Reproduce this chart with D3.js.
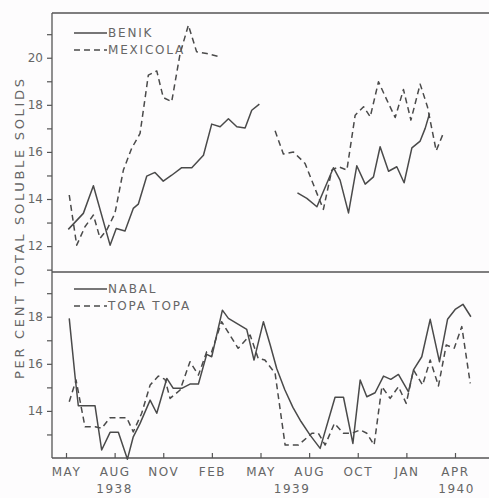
<!DOCTYPE html>
<html>
<head>
<meta charset="utf-8">
<script src="https://cdn.jsdelivr.net/npm/d3@7"></script>
<style>
    body { margin: 0; background: #fdfcfd; }
    text { font-family: "DejaVu Sans", sans-serif; fill: #666; }
</style>
</head>
<body>
<svg width="489" height="498"></svg>
<script>
// months counted from May 1938, null breaks the line
let benikMonths = [0.14, 1.07, 1.69, 2.72, 3.1, 3.64, 4.15, 4.46, 4.98, 5.49, 6.0, 6.52, 7.14, 7.76, 8.48, 8.99, 9.51, 10.02, 10.54, 11.05, 11.46, 11.93,
    null, 14.28, 14.86, 15.48, 16.5, 16.91, 17.43, 17.94, 18.46, 18.97, 19.38, 19.9, 20.41, 20.86, 21.34, 21.85, 22.16, 22.43];
let benikValues = [12.71, 13.39, 14.56, 12.04, 12.75, 12.64, 13.6, 13.78, 14.97, 15.13, 14.76, 15.01, 15.33, 15.33, 15.86, 17.18, 17.07, 17.41, 17.07, 17.02, 17.77, 18.03,
    null, 14.26, 14.03, 13.67, 15.33, 14.8, 13.41, 15.41, 14.63, 14.94, 16.22, 15.18, 15.37, 14.69, 16.17, 16.46, 17.0, 17.63];

let mexicolaMonths = [0.2, 0.66, 1.17, 1.69, 2.1, 2.51, 3.02, 3.54, 4.05, 4.57, 5.08, 5.6, 6.0, 6.52, 7.04, 7.55, 8.06, 8.68, 9.51,
    null, 12.9, 13.41, 14.03, 14.75, 15.48, 15.88, 16.4, 16.81, 17.33, 17.84, 18.36, 18.77, 19.28, 19.8, 20.31, 20.82, 21.28, 21.85, 22.3, 22.84, 23.29];
let mexicolaValues = [14.17, 12.04, 12.82, 13.32, 12.33, 12.68, 13.39, 15.23, 16.15, 16.79, 19.26, 19.44, 18.31, 18.13, 20.18, 21.38, 20.25, 20.18, 20.04,
    null, 16.9, 15.91, 16.0, 15.51, 14.24, 13.56, 15.23, 15.37, 15.23, 17.56, 17.92, 17.49, 18.98, 18.2, 17.46, 18.65, 17.35, 18.88, 17.92, 16.05, 16.81];

let nabalMonths = [0.2, 0.56, 0.76, 1.79, 2.2, 2.72, 3.23, 3.79, 4.15, 4.57, 5.19, 5.6, 6.22, 6.62, 7.14, 7.65, 8.17, 8.68, 8.99, 9.65, 10.02, 11.15, 11.6, 12.18,
    12.6, 13.0, 13.5, 14.0, 14.5, 15.06, 15.68, 16.6, 17.12, 17.7, 18.15, 18.56, 19.07, 19.59, 20.04, 20.51, 21.13, 21.44, 21.95, 22.47, 23.04, 23.54, 24.01, 24.49, 24.98];
let nabalValues = [17.93, 15.45, 14.22, 14.22, 12.34, 13.09, 13.09, 11.95, 12.9, 13.47, 14.46, 13.9, 15.38, 14.96, 14.96, 15.14, 15.14, 16.4, 16.3, 18.28, 17.93, 17.46, 16.16, 17.79,
    16.8, 15.8, 14.9, 14.15, 13.55, 12.97, 12.41, 14.58, 14.58, 12.62, 15.31, 14.6, 14.77, 15.48, 15.34, 15.55, 14.81, 15.74, 16.3, 17.89, 16.09, 17.89, 18.31, 18.53, 18.0];

let topaMonths = [0.2, 0.62, 1.17, 1.79, 2.2, 2.72, 3.75, 4.15, 4.67, 5.19, 5.7, 6.11, 6.42, 7.04, 7.65, 8.17, 8.68, 8.99, 9.6, 10.62, 11.36, 11.86, 12.27, 12.9,
    13.52, 14.34, 15.17, 15.57, 15.99, 16.56, 17.12, 17.63, 18.15, 18.56, 19.01, 19.49, 20.0, 20.51, 20.99, 21.44, 22.0, 22.47, 22.98, 23.46, 23.95, 24.42, 24.94];
let topaValues = [14.39, 15.31, 13.33, 13.33, 13.26, 13.71, 13.71, 13.11, 13.9, 15.1, 15.48, 15.34, 14.53, 14.89, 16.09, 15.52, 16.51, 16.51, 17.79, 16.66, 17.22, 16.23, 16.16, 15.6,
    12.55, 12.55, 13.05, 13.05, 12.55, 13.47, 13.05, 13.05, 13.19, 13.05, 12.55, 15.03, 14.53, 15.03, 14.32, 15.74, 15.1, 16.16, 15.06, 16.8, 16.66, 17.58, 15.17];

let monthTicks = [0, 3, 6, 9, 12, 15, 18, 21, 24];
let monthLabels = ["MAY", "AUG", "NOV", "FEB", "MAY", "AUG", "OCT", "JAN", "APR"];
let yearTicks = [3, 13.95, 24.1];
let yearLabels = ["1938", "1939", "1940"];
let topTicks = [11, 12, 13, 14, 15, 16, 17, 18, 19, 20, 21];
let bottomTicks = [13, 14, 15, 16, 17, 18, 19];

let svg = d3.select("svg");
let lineColor = "#4a4a4a";

let x = d3.scaleLinear().domain([0, 24]).range([66, 455]);
let yTop = d3.scaleLinear().domain([10.9, 21.9]).range([272, 13]);
let yBottom = d3.scaleLinear().domain([12, 19.9]).range([458, 272]);
let left = 52, right = 489;

// frame
let frame = svg.append("g").attr("stroke", "#555").attr("stroke-width", 1.3);
frame.append("line").attr("x1", left).attr("x2", left).attr("y1", yTop.range()[1]).attr("y2", yBottom.range()[0]);
for (let y of [yTop.range()[1], yTop.range()[0], yBottom.range()[0]]) {
    frame.append("line").attr("x1", left).attr("x2", right).attr("y1", y).attr("y2", y);
}

function evenLabel(d) {
    return d % 2 == 0 ? d : "";
}

function styleAxis(g) {
    g.select(".domain").remove();
    g.selectAll(".tick line").attr("stroke", "#555").attr("stroke-width", 1.2);
    g.selectAll(".tick text").style("font-size", "12px").attr("fill", "#666");
}

svg.append("g")
    .attr("transform", `translate(${left},0)`)
    .call(d3.axisLeft(yTop).tickValues(topTicks).tickFormat(evenLabel).tickSize(5).tickPadding(4))
    .call(styleAxis);

svg.append("g")
    .attr("transform", `translate(${left},0)`)
    .call(d3.axisLeft(yBottom).tickValues(bottomTicks).tickFormat(evenLabel).tickSize(5).tickPadding(4))
    .call(styleAxis);

svg.append("g")
    .attr("transform", `translate(0,${yBottom.range()[0]})`)
    .call(d3.axisBottom(x).tickValues(monthTicks).tickFormat((d, i) => monthLabels[i]).tickSizeInner(-5).tickSizeOuter(0).tickPadding(9))
    .call(styleAxis)
    .call(g => g.selectAll(".tick text").style("letter-spacing", "1.5px"));

svg.append("g").selectAll("text")
    .data(yearLabels)
    .join("text")
    .attr("x", (d, i) => x(yearTicks[i]))
    .attr("y", 493)
    .attr("text-anchor", "middle")
    .style("font-size", "12px")
    .style("letter-spacing", "1.5px")
    .text(d => d);

svg.append("text")
    .attr("transform", "translate(19,229) rotate(-90)")
    .attr("text-anchor", "middle")
    .attr("dominant-baseline", "central")
    .attr("textLength", 300)
    .attr("lengthAdjust", "spacing")
    .style("font-size", "13px")
    .attr("fill", "#888")
    .text("PER CENT TOTAL SOLUBLE SOLIDS");

function drawSeries(months, values, yScale, dashed) {
    let points = months.map((m, i) => m === null ? null : [m, values[i]]);
    let line = d3.line()
        .defined(d => d !== null)
        .x(d => x(d[0]))
        .y(d => yScale(d[1]));
    svg.append("path")
        .datum(points)
        .attr("d", line)
        .attr("fill", "none")
        .attr("stroke", lineColor)
        .attr("stroke-width", 1.5)
        .attr("stroke-linejoin", "round")
        .attr("stroke-dasharray", dashed ? "6,4" : null);
}

drawSeries(benikMonths, benikValues, yTop, false);
drawSeries(mexicolaMonths, mexicolaValues, yTop, true);
drawSeries(nabalMonths, nabalValues, yBottom, false);
drawSeries(topaMonths, topaValues, yBottom, true);

function drawLegend(entries, y0) {
    entries.forEach((entry, i) => {
        let y = y0 + i * 17;
        svg.append("line")
            .attr("x1", 74).attr("x2", 107).attr("y1", y).attr("y2", y)
            .attr("stroke", lineColor)
            .attr("stroke-width", 1.5)
            .attr("stroke-dasharray", entry.dashed ? "6,4" : null);
        svg.append("text")
            .attr("x", 108)
            .attr("y", y)
            .attr("dominant-baseline", "central")
            .style("font-size", "12px")
            .style("letter-spacing", "1.8px")
            .text(entry.name);
    });
}

drawLegend([{ name: "BENIK", dashed: false }, { name: "MEXICOLA", dashed: true }], 33);
drawLegend([{ name: "NABAL", dashed: false }, { name: "TOPA  TOPA", dashed: true }], 289);
</script>
</body>
</html>
